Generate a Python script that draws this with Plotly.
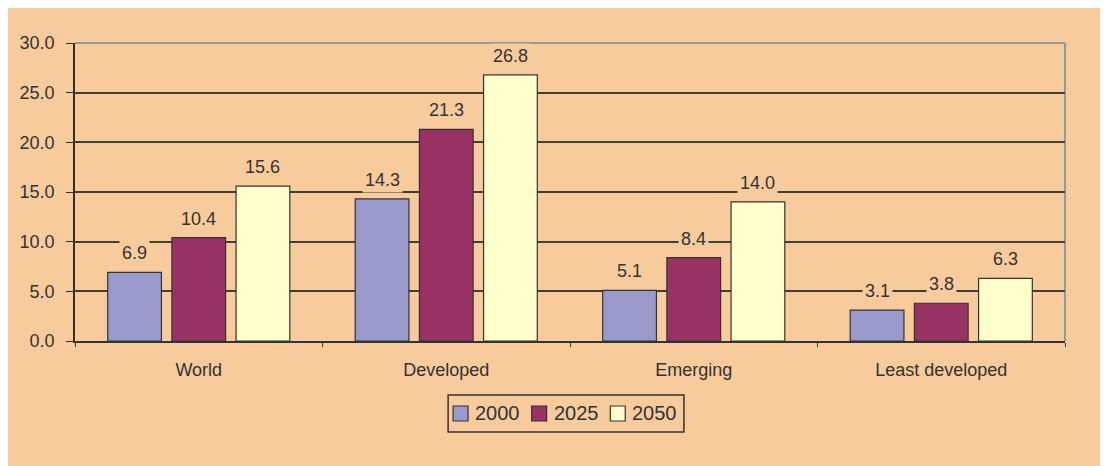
import plotly.graph_objects as go

categories = ["World", "Developed", "Emerging", "Least developed"]
years = ["2000", "2025", "2050"]
values_2000 = [6.9, 14.3, 5.1, 3.1]
values_2025 = [10.4, 21.3, 8.4, 3.8]
values_2050 = [15.6, 26.8, 14.0, 6.3]
y_ticks = [0, 5, 10, 15, 20, 25, 30]

series = [values_2000, values_2025, values_2050]
colors = ["#9999CC", "#993366", "#FFFFCC"]
peach = "#F8CB9D"
dark = "#333333"
FONT = "Liberation Sans, Arial"

# figure sits inside the page body (8px margin)
W, H = 1100, 458
L, T = 62, 35
pw, ph = 995, 298
R, B = W - L - pw, H - T - ph


def px_x(p):
    return (p - L) / pw


def px_y(p):
    return 1 - (p - T) / ph


bargap = 0.222
fig = go.Figure()
for name, vals, col in zip(years, series, colors):
    fig.add_trace(go.Bar(
        x=categories, y=vals, name=name,
        marker=dict(color=col, line=dict(color=dark, width=1.2)),
    ))

slot = (1 - bargap) / len(years)
annotations = []
for i, vals in enumerate(series):
    off = (i - 1) * slot
    for j, v in enumerate(vals):
        annotations.append(dict(
            x=j + off, y=v, xref="x", yref="y", text=f"{v:.1f}",
            showarrow=False, yshift=19, bgcolor=peach, borderpad=2,
            font=dict(family=FONT, size=18, color=dark),
        ))

shapes = [
    # gray top and right border of plot area
    dict(type="line", xref="paper", yref="paper", x0=0, x1=1, y0=1, y1=1,
         line=dict(color="#8F9C98", width=2), layer="below"),
    dict(type="line", xref="paper", yref="paper", x0=1, x1=1, y0=0, y1=1,
         line=dict(color="#8F9C98", width=2), layer="below"),
    # legend box
    dict(type="rect", xref="paper", yref="paper",
         x0=px_x(437), x1=px_x(674), y0=px_y(387), y1=px_y(424),
         fillcolor=peach, line=dict(color=dark, width=1.5)),
]

sq_x = [442, 521, 600]
sq_size = 15
cy = 405.5
for name, col, sx in zip(years, colors, sq_x):
    shapes.append(dict(
        type="rect", xref="paper", yref="paper",
        x0=px_x(sx), x1=px_x(sx + sq_size),
        y0=px_y(cy - sq_size / 2), y1=px_y(cy + sq_size / 2),
        fillcolor=col, line=dict(color=dark, width=1.2),
    ))
    annotations.append(dict(
        x=px_x(sx + sq_size + 5), y=px_y(cy), xref="paper", yref="paper",
        text=name, showarrow=False, xanchor="left", yanchor="middle",
        font=dict(family=FONT, size=20, color=dark),
    ))

fig.update_layout(
    width=W, height=H,
    margin=dict(l=L, r=R, t=T, b=B),
    paper_bgcolor=peach, plot_bgcolor=peach,
    barmode="group", bargap=bargap, bargroupgap=0.163,
    font=dict(family=FONT, size=18, color=dark),
    showlegend=False,
    annotations=annotations,
    shapes=shapes,
)
fig.update_yaxes(
    range=[0, 30], tickvals=y_ticks, tickformat=".1f",
    showgrid=True, gridcolor="#3F3F33", gridwidth=1.5,
    showline=True, linecolor="#3A2A2A", linewidth=1.5,
    ticks="outside", ticklen=7, tickcolor="#3A2A2A",
    ticklabelstandoff=8,
    zeroline=False, tickfont=dict(family=FONT, size=18, color=dark),
)
fig.update_xaxes(
    showline=True, linecolor="#333333", linewidth=1.5,
    ticks="outside", tickson="boundaries", ticklen=4, tickcolor=dark,
    ticklabelstandoff=12, tickfont=dict(family=FONT, size=18, color=dark),
    showgrid=False,
)

fig.write_html("out.html")
